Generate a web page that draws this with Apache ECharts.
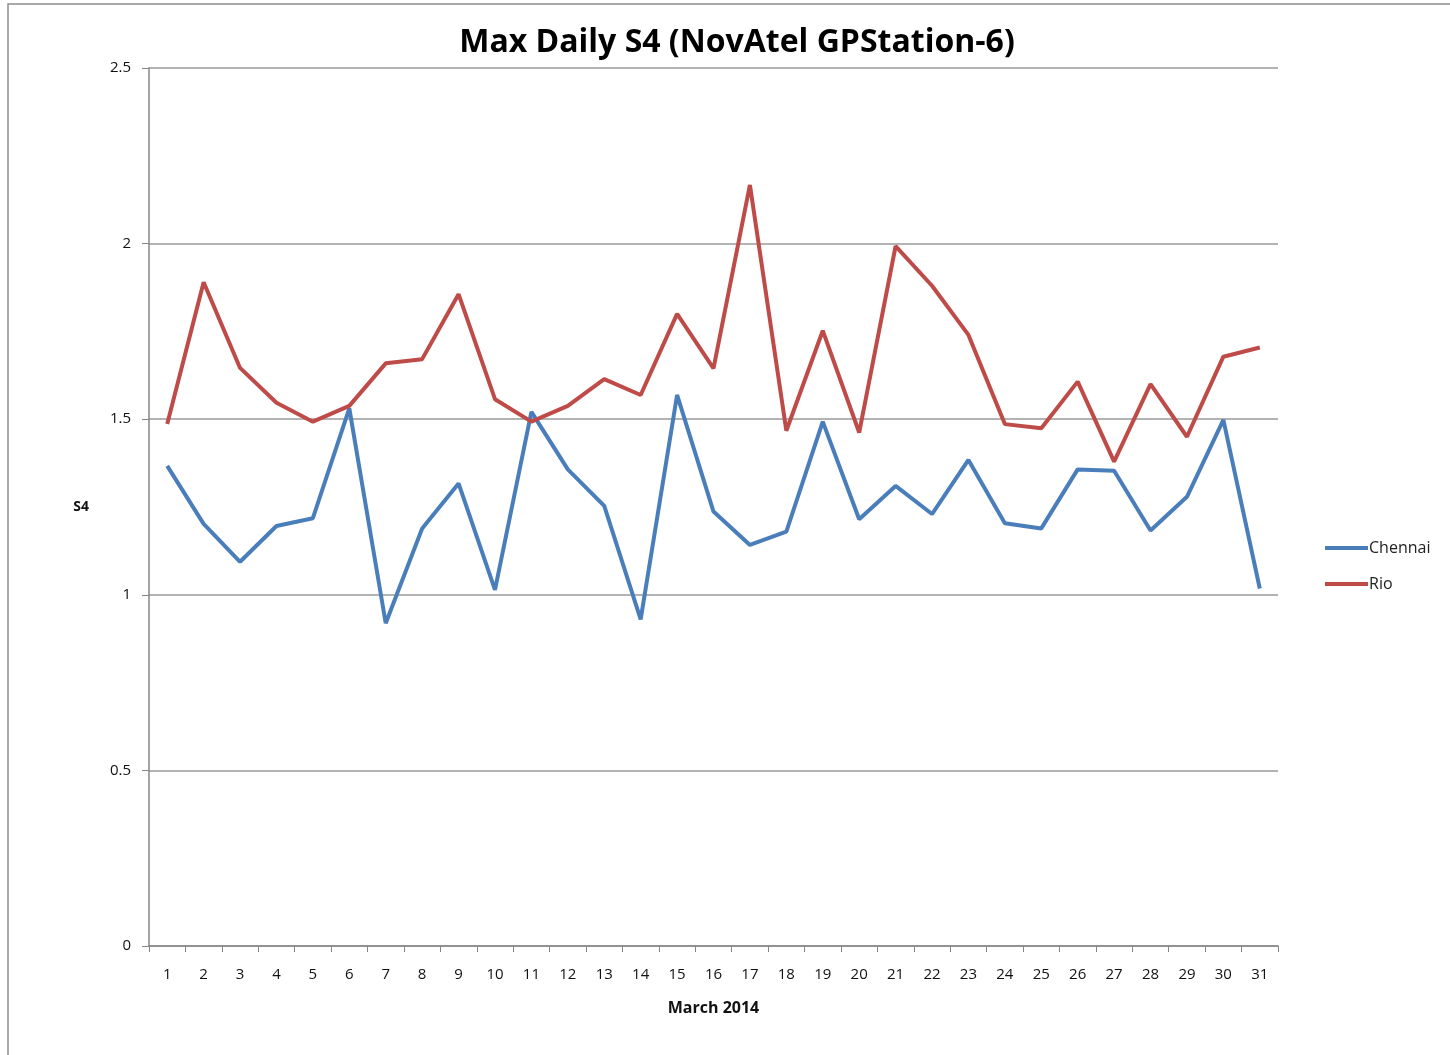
<!DOCTYPE html>
<html>
<head>
<meta charset="utf-8">
<script src="https://cdn.jsdelivr.net/npm/echarts@6/dist/echarts.min.js"></script>
<style>
  html, body { margin: 0; padding: 0; background: #fff; }
  #chart { width: 1450px; height: 1055px; }
</style>
</head>
<body>
<div id="chart"></div>
<script>
const days = Array.from({ length: 31 }, (_, i) => String(i + 1))

const chennai = [1.367, 1.202, 1.094, 1.196, 1.218, 1.531, 0.919, 1.189, 1.317, 1.014,
  1.521, 1.357, 1.253, 0.930, 1.569, 1.237, 1.142, 1.180, 1.493, 1.215,
  1.310, 1.230, 1.384, 1.204, 1.189, 1.357, 1.353, 1.183, 1.279, 1.498, 1.018]

const rio = [1.486, 1.890, 1.646, 1.547, 1.493, 1.538, 1.659, 1.671, 1.856, 1.557,
  1.493, 1.538, 1.614, 1.569, 1.800, 1.645, 2.167, 1.467, 1.752, 1.462,
  1.993, 1.880, 1.740, 1.486, 1.474, 1.607, 1.379, 1.600, 1.450, 1.678, 1.704]

const yTicks = [0, 0.5, 1, 1.5, 2, 2.5]

const chart = echarts.init(document.getElementById('chart'), null, { renderer: 'canvas' })

const font = 'Open Sans, sans-serif'
const axisGray = '#868686'

chart.setOption({
  backgroundColor: '#fff',
  animation: false,
  title: {
    text: 'Max Daily S4 (NovAtel GPStation-6)',
    left: 732,
    textAlign: 'center',
    top: 22,
    textStyle: {
      fontFamily: 'Open Sans, sans-serif',
      fontSize: 32,
      fontWeight: 'bold',
      color: '#000'
    }
  },
  graphic: [{
    type: 'polyline',
    shape: { points: [[8, 1055], [8, 4], [1450, 4]] },
    style: { stroke: '#8c8c8c', lineWidth: 1.5, fill: null }
  }],
  legend: {
    orient: 'vertical',
    left: 1320,
    top: 535,
    itemWidth: 43,
    itemHeight: 4,
    itemGap: 20,
    icon: 'rect',
    textStyle: { fontFamily: font, fontSize: 16, color: '#222', padding: [0, 0, 0, -4] },
    data: ['Chennai', 'Rio']
  },
  grid: { left: 149, right: 172, top: 68, bottom: 109 },
  xAxis: {
    type: 'category',
    data: days,
    boundaryGap: true,
    name: 'March 2014',
    nameLocation: 'middle',
    nameGap: 54,
    nameTextStyle: { fontFamily: font, fontSize: 16, fontWeight: 'bold', color: '#111' },
    axisLine: { lineStyle: { color: axisGray, width: 1.5 } },
    axisTick: { show: true, length: 6, alignWithLabel: false, lineStyle: { color: axisGray } },
    axisLabel: { fontFamily: font, fontSize: 15, color: '#111', margin: 21, interval: 0 },
    splitLine: { show: false }
  },
  yAxis: {
    type: 'value',
    min: 0,
    max: 2.5,
    interval: 0.5,
    name: 'S4',
    nameLocation: 'middle',
    nameGap: 60,
    nameRotate: 0,
    nameTextStyle: { fontFamily: font, fontSize: 14, fontWeight: 'bold', color: '#111' },
    axisLine: { show: true, lineStyle: { color: axisGray, width: 1.5 } },
    axisTick: { show: true, length: 7, lineStyle: { color: axisGray } },
    axisLabel: {
      fontFamily: font,
      fontSize: 15,
      color: '#111',
      margin: 18,
      formatter: v => (yTicks.includes(v) ? String(v) : '')
    },
    splitLine: { lineStyle: { color: '#9a9a9a', width: 1.5 } }
  },
  series: [
    {
      name: 'Chennai',
      type: 'line',
      data: chennai,
      symbol: 'none',
      lineStyle: { width: 4, color: '#4A7EBB' },
      itemStyle: { color: '#4A7EBB' }
    },
    {
      name: 'Rio',
      type: 'line',
      data: rio,
      symbol: 'none',
      lineStyle: { width: 4, color: '#BE4B48' },
      itemStyle: { color: '#BE4B48' }
    }
  ]
})

window.addEventListener('resize', () => chart.resize())
</script>
</body>
</html>
